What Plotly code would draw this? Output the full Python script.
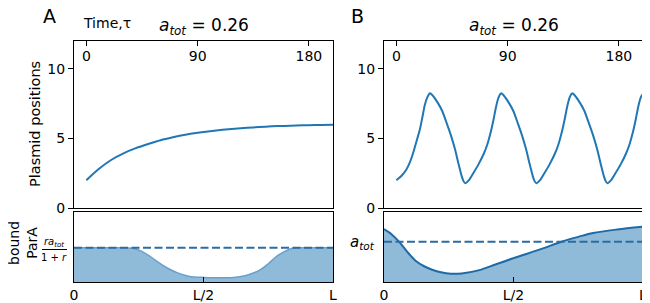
import plotly.graph_objects as go

# ---------------- data ----------------
time_a = [0, 10, 20, 30, 40, 50, 60, 70, 80, 90, 100, 110, 120, 130, 140, 150, 160, 170, 180, 190, 199.5]
pos_a = [2.0, 2.8, 3.45, 3.93, 4.3, 4.6, 4.87, 5.08, 5.26, 5.4, 5.52, 5.62, 5.7, 5.76, 5.82, 5.87, 5.9, 5.93, 5.95, 5.97, 5.98]

time_b = [0, 4, 8, 11, 13.5, 16, 18.9, 21, 23, 25, 27.2,
          29.2, 33.9, 37.2, 40.7, 44.2, 47.5, 50.2, 52.9, 54.2, 55.7,
          58.7, 62.2, 66.2, 70.7, 73.7, 76.2, 78.7, 80.7, 82.7, 84.7,
          86.7, 91.4, 94.7, 98.2, 101.7, 105, 107.7, 110.4, 111.7, 113.2,
          116.2, 119.7, 123.7, 128.2, 131.2, 133.7, 136.2, 138.2, 140.2, 142.2,
          144.2, 148.9, 152.2, 155.7, 159.2, 162.5, 165.2, 167.9, 169.2, 170.7,
          173.7, 177.2, 181.2, 185.7, 188.7, 191.2, 193.7, 195.7, 197.7, 199.5]
pos_b = [2.0, 2.3, 2.75, 3.3, 3.93, 4.7, 5.6, 6.5, 7.4, 7.95, 8.25,
         8.1, 7.5, 6.95, 6.1, 5.2, 4.2, 3.2, 2.27, 1.95, 1.78,
         2.0, 2.5, 3.1, 3.9, 4.6, 5.4, 6.4, 7.3, 7.95, 8.25,
         8.1, 7.5, 6.95, 6.1, 5.2, 4.2, 3.2, 2.27, 1.95, 1.78,
         2.0, 2.5, 3.1, 3.9, 4.6, 5.4, 6.4, 7.3, 7.95, 8.25,
         8.1, 7.5, 6.95, 6.1, 5.2, 4.2, 3.2, 2.27, 1.95, 1.78,
         2.0, 2.5, 3.1, 3.9, 4.6, 5.4, 6.4, 7.3, 7.95, 8.2]

space_a = [0, 0.05, 0.1, 0.15, 0.2, 0.233, 0.26, 0.3, 0.33, 0.36, 0.4, 0.446, 0.5, 0.55, 0.616,
           0.66, 0.7, 0.717, 0.75, 0.78, 0.81, 0.84, 0.87, 0.9, 0.95, 1.0]
parA_a = [0.49, 0.49, 0.49, 0.49, 0.488, 0.48, 0.44, 0.35, 0.27, 0.2, 0.13, 0.08, 0.065, 0.06, 0.065,
          0.09, 0.14, 0.17, 0.26, 0.36, 0.43, 0.48, 0.49, 0.49, 0.49, 0.49]
level_a = 0.49

space_b = [0, 0.03, 0.058, 0.09, 0.123, 0.155, 0.186, 0.22, 0.258, 0.3, 0.368, 0.43, 0.496,
           0.55, 0.614, 0.685, 0.75, 0.807, 0.9, 1.0]
parA_b = [0.755, 0.68, 0.576, 0.43, 0.30, 0.225, 0.175, 0.138, 0.118, 0.122, 0.17, 0.25, 0.335,
          0.40, 0.48, 0.576, 0.645, 0.70, 0.75, 0.79]
level_b = 0.576

time_ticks = [0, 90, 180]
pos_ticks = [0, 5, 10]
space_ticks = [0, 0.5, 1]
space_ticktext = ["0", "L/2", "L"]

# ---------------- styling ----------------
# the page body keeps its default 8px margin, so the figure is drawn 8px in from the
# top-left corner of the 650x303 window; all positions below are window pixels.
OFF = 8
W, H = 650 - OFF, 303 - OFF
LINE = "#1f77b4"
FILL = "rgba(31,119,180,0.5)"
DASH = "#2b6ca3"
FONT = "DejaVu Sans"


def px_x(p):
    return (p - OFF) / W


def px_y(p):
    return 1 - (p - OFF) / H


dom_a = [px_x(74), px_x(333)]
dom_b = [px_x(384), px_x(643)]
dom_top = [px_y(208), px_y(41)]
dom_bot = [px_y(282), px_y(212)]

fig = go.Figure()

# top panels
fig.add_trace(go.Scatter(x=time_a, y=pos_a, mode="lines", line=dict(color=LINE, width=2, shape="spline", smoothing=0.8),
                         xaxis="x", yaxis="y", showlegend=False))
fig.add_trace(go.Scatter(x=time_b, y=pos_b, mode="lines", line=dict(color=LINE, width=2, shape="spline", smoothing=0.6),
                         xaxis="x2", yaxis="y2", showlegend=False))

# bottom panels
fig.add_trace(go.Scatter(x=space_a, y=parA_a, mode="lines", fill="tozeroy", fillcolor=FILL,
                         line=dict(color="#6a9fcc", width=1.5, shape="spline", smoothing=0.8),
                         xaxis="x3", yaxis="y3", showlegend=False))
fig.add_trace(go.Scatter(x=[0, 1], y=[level_a, level_a], mode="lines",
                         line=dict(color=DASH, width=2, dash="8px,3.5px"),
                         xaxis="x3", yaxis="y3", showlegend=False))
fig.add_trace(go.Scatter(x=space_b, y=parA_b, mode="lines", fill="tozeroy", fillcolor=FILL,
                         line=dict(color="#1f6aa5", width=2, shape="spline", smoothing=0.9),
                         xaxis="x4", yaxis="y4", showlegend=False))
fig.add_trace(go.Scatter(x=[0, 1], y=[level_b, level_b], mode="lines",
                         line=dict(color=DASH, width=2, dash="8px,3.5px"),
                         xaxis="x4", yaxis="y4", showlegend=False))

box = dict(showline=True, mirror=True, linecolor="black", linewidth=1.2, showgrid=False, zeroline=False,
           automargin=False)
tickfont = dict(family=FONT, size=14, color="black")

time_axis = dict(box, range=[-10, 199.5], side="top", tickvals=time_ticks, ticks="inside", ticklen=5,
                 tickcolor="black", ticklabelposition="inside", tickfont=tickfont, ticklabelstandoff=5)
pos_axis = dict(box, range=[0, 12], tickvals=pos_ticks, ticks="outside", ticklen=5, tickcolor="black",
                tickfont=tickfont)
space_axis = dict(box, range=[0, 1], tickvals=space_ticks, ticktext=space_ticktext, ticks="inside", ticklen=5,
                  tickcolor="black", tickfont=tickfont)
parA_axis = dict(box, range=[0, 1], showticklabels=False, ticks="")

fig.update_layout(
    width=W, height=H, margin=dict(l=0, r=0, t=0, b=0, autoexpand=False),
    plot_bgcolor="white", paper_bgcolor="white",
    font=dict(family=FONT, size=14, color="black"),
    xaxis=dict(time_axis, domain=dom_a, anchor="y"),
    yaxis=dict(pos_axis, domain=dom_top, anchor="x"),
    xaxis2=dict(time_axis, domain=dom_b, anchor="y2"),
    yaxis2=dict(pos_axis, domain=dom_top, anchor="x2"),
    xaxis3=dict(space_axis, domain=dom_a, anchor="y3"),
    yaxis3=dict(parA_axis, domain=dom_bot, anchor="x3"),
    xaxis4=dict(space_axis, domain=dom_b, anchor="y4"),
    yaxis4=dict(parA_axis, domain=dom_bot, anchor="x4"),
)


def ann(text, x, y, size=14, xanchor="center", yanchor="middle", textangle=0):
    fig.add_annotation(text=text, x=px_x(x), y=px_y(y), xref="paper", yref="paper", showarrow=False,
                       xanchor=xanchor, yanchor=yanchor, textangle=textangle,
                       font=dict(family=FONT, size=size, color="black"))


title = "<i>a</i><sub><i>tot</i></sub> = 0.26"
ann("A", 50, 16, size=19)
ann("B", 358, 16, size=19)
ann(title, 203.5, 26, size=17)
ann(title, 513.5, 26, size=17)
ann("Time,τ", 107, 23, size=14)
ann("Plasmid positions", 35, 124, size=14.5, textangle=-90)
ann("bound<br>ParA", 23, 243, size=14, textangle=-90)
ann("<i>ra</i><sub><i>tot</i></sub>", 54, 242, size=10)
ann("1 + <i>r</i>", 54, 257, size=10)
fig.add_shape(type="line", xref="paper", yref="paper", x0=px_x(42), x1=px_x(67), y0=px_y(249.5), y1=px_y(249.5),
              line=dict(color="black", width=1))
ann("<i>a</i><sub><i>tot</i></sub>", 377, 242, size=15, xanchor="right")

fig.write_html("out.html")
